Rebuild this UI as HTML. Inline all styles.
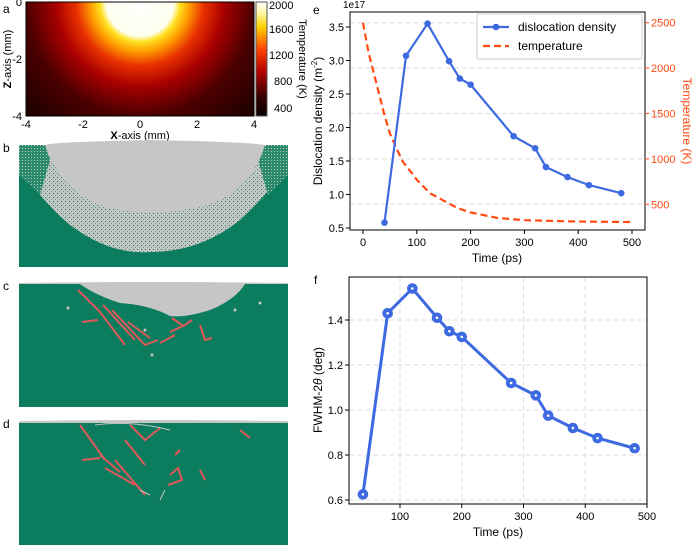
<!DOCTYPE html>
<html><head><meta charset="utf-8"><style>
body{margin:0;background:#fff}
svg{display:block;font-family:"Liberation Sans",Arial,sans-serif}
</style></head><body>
<svg id="fig" width="696" height="546" viewBox="0 0 696 546">
<defs>
<radialGradient id="heat" cx="140" cy="2" r="200" gradientUnits="userSpaceOnUse">
<stop offset="0" stop-color="#ffffff"/><stop offset="0.17" stop-color="#fffff0"/>
<stop offset="0.2" stop-color="#ffe020"/><stop offset="0.25" stop-color="#ff9a00"/>
<stop offset="0.32" stop-color="#e83000"/><stop offset="0.42" stop-color="#a80000"/>
<stop offset="0.57" stop-color="#4a0000"/><stop offset="0.8" stop-color="#1c0000"/>
<stop offset="1" stop-color="#0e0000"/></radialGradient>
<linearGradient id="cbar" x1="0" y1="0" x2="0" y2="1">
<stop offset="0" stop-color="#ffffff"/><stop offset="0.1" stop-color="#fff8a0"/>
<stop offset="0.22" stop-color="#ffd000"/><stop offset="0.42" stop-color="#ff4000"/>
<stop offset="0.62" stop-color="#b00000"/><stop offset="0.85" stop-color="#300000"/>
<stop offset="1" stop-color="#080000"/></linearGradient>
<pattern id="speck" width="4" height="4" patternUnits="userSpaceOnUse">
<rect width="4" height="4" fill="#c4c6c4"/>
<rect x="1" y="1" width="1" height="1" fill="#0b7c5e"/><rect x="3" y="3" width="1" height="1" fill="#5a9a85"/>
</pattern>
<pattern id="speck2" width="3" height="3" patternUnits="userSpaceOnUse">
<rect width="3" height="3" fill="#2a8a6c"/>
<rect x="1" y="1" width="1" height="1" fill="#c4c6c4"/>
</pattern>
</defs>

<!-- panel a -->
<text x="3" y="13" font-size="12">a</text>
<rect x="26" y="2" width="228" height="114" fill="url(#heat)"/>
<rect x="26" y="2" width="228" height="114" fill="none" stroke="#000" stroke-width="1"/>
<g font-size="11" text-anchor="end">
<text x="22" y="6">0</text><text x="22" y="63">-2</text><text x="22" y="120">-4</text></g>
<g font-size="11" text-anchor="middle">
<text x="26" y="128">-4</text><text x="83" y="128">-2</text><text x="140" y="128">0</text><text x="197" y="128">2</text><text x="254" y="128">4</text></g>
<text x="140" y="139" font-size="11" text-anchor="middle"><tspan font-weight="bold">X</tspan>-axis (mm)</text>
<text transform="translate(11,59) rotate(-90)" font-size="11" text-anchor="middle"><tspan font-weight="bold">Z</tspan>-axis (mm)</text>
<rect x="256" y="2" width="11" height="114" fill="url(#cbar)" stroke="#555" stroke-width="1"/>
<g font-size="11">
<text x="269" y="9">2000</text><text x="269" y="33">1600</text><text x="269" y="59">1200</text><text x="274" y="85">800</text><text x="274" y="112">400</text></g>
<text transform="translate(299,59) rotate(90)" font-size="11" text-anchor="middle">Temperature (K)</text>

<!-- panel b -->
<text x="3" y="152" font-size="12">b</text>
<g>
<rect x="19" y="145" width="269" height="122" fill="#0b7c5e"/>
<path d="M19,145 L19,165 Q40,200 70,225 Q110,255 150,252 Q200,252 240,220 Q272,190 288,165 L288,145 Z" fill="url(#speck)"/>
<path d="M19,145 L19,175 Q30,185 40,195 L50,160 L45,145 Z" fill="url(#speck2)"/>
<path d="M288,145 L288,175 Q278,185 268,195 L258,160 L265,145 Z" fill="url(#speck2)"/>
<path d="M45,145 Q50,142 150,140 Q250,142 265,145 Q250,195 200,207 Q150,218 105,207 Q62,192 45,145 Z" fill="#c6c6c6"/>
</g>

<!-- panel c -->
<text x="3" y="290" font-size="12">c</text>
<g>
<rect x="19" y="283" width="269" height="124" fill="#0b7c5e"/>
<path d="M19,283 Q150,281 288,283 L288,284 L245,284 Q235,300 210,310 Q185,318 170,316 Q150,305 120,303 Q95,295 80,284 L19,284 Z" fill="#c6c6c6"/>
<g stroke="#e05858" stroke-width="2" fill="none">
<path d="M78,290 L100,312 L125,345"/><path d="M103,305 L135,340"/><path d="M112,310 L145,345 L158,340"/>
<path d="M82,322 L98,320"/><path d="M128,322 L150,338"/><path d="M170,332 L185,325 L192,320"/>
<path d="M160,343 L175,335"/><path d="M200,325 L205,340 L212,338"/><path d="M172,318 L182,325"/>
</g>
<g fill="#c6c6c6"><circle cx="68" cy="308" r="1.5"/><circle cx="235" cy="310" r="1.5"/><circle cx="260" cy="303" r="1.5"/><circle cx="152" cy="355" r="1.5"/><circle cx="145" cy="330" r="1.5"/></g>
</g>

<!-- panel d -->
<text x="3" y="428" font-size="12">d</text>
<g>
<rect x="19" y="421" width="269" height="124" fill="#0b7c5e"/>
<path d="M19,421 Q150,419 288,421 L288,423 L19,423 Z" fill="#c6c6c6"/>
<g stroke="#e05858" stroke-width="2" fill="none">
<path d="M80,425 L105,460"/><path d="M130,425 L145,440 L160,428"/><path d="M100,455 L120,472"/>
<path d="M105,468 L135,485"/><path d="M115,460 L145,495"/><path d="M82,460 L100,458"/>
<path d="M125,440 L145,465"/><path d="M170,475 L178,468 L182,480 L168,485"/><path d="M200,470 L205,480"/>
<path d="M240,430 L250,438"/><path d="M175,455 L180,450"/>
</g>
<g stroke="#c6c6c6" stroke-width="1" fill="none"><path d="M95,425 Q130,420 170,430"/><path d="M140,490 L150,495"/><path d="M160,500 L165,490"/></g>
</g>

<text x="313" y="14" font-size="12">e</text>
<text x="314" y="284" font-size="12">f</text>

<g id="chartE"></g>
<g id="chartF"></g>
</svg>
<script>
const NS='http://www.w3.org/2000/svg';
function mk(parent,tag,attrs,txt){const e=document.createElementNS(NS,tag);for(const k in attrs)e.setAttribute(k,attrs[k]);if(txt!==undefined)e.textContent=txt;parent.appendChild(e);return e;}

// ---- chart e data ----
const eTimes=[40,80,120,160,180,200,280,320,340,380,420,480];
const eDensity=[0.58,3.07,3.55,2.99,2.73,2.64,1.87,1.69,1.41,1.26,1.14,1.02];
const tempTimes=[0,10,25,40,50,65,75,90,100,125,150,175,200,250,300,400,500];
const tempValues=[2500,2180,1830,1480,1280,1080,960,850,770,620,540,460,410,350,325,310,305];
const eXTicks=[0,100,200,300,400,500];
const eYTicks=[0.5,1.0,1.5,2.0,2.5,3.0,3.5];
const eY2Ticks=[500,1000,1500,2000,2500];
// ---- chart f data ----
const fTimes=[40,80,120,160,180,200,280,320,340,380,420,480];
const fFwhm=[0.625,1.43,1.54,1.41,1.35,1.325,1.12,1.065,0.975,0.92,0.875,0.83];
const fXTicks=[100,200,300,400,500];
const fYTicks=[0.6,0.8,1.0,1.2,1.4];

const BLUE='#3d6ae0', ORANGE='#ff4a10';
const ex=t=>363+(t-0)*(632-363)/500;
const ey=v=>228-(v-0.5)*(228-27)/3.0;
const ey2=v=>204.3-(v-500)*(204.3-22.7)/2000;
const E=document.getElementById('chartE');
eY2Ticks.forEach(v=>{const g=mk(E,'line',{x1:350,x2:645,y1:ey2(v),y2:ey2(v),stroke:'#ddd','stroke-dasharray':'5,3','stroke-width':1});

});
let tp=tempTimes.map((t,i)=>ex(t)+','+ey2(tempValues[i])).join(' ');
const tl=mk(E,'polyline',{points:tp,fill:'none',stroke:ORANGE,'stroke-width':2.2,'stroke-dasharray':'7,4'});


const dl=mk(E,'polyline',{points:eTimes.map((t,i)=>ex(t)+','+ey(eDensity[i])).join(' '),fill:'none',stroke:BLUE,'stroke-width':2.2});


eTimes.forEach((t,i)=>{const c=mk(E,'circle',{cx:ex(t),cy:ey(eDensity[i]),r:3.3,fill:BLUE});

});
mk(E,'rect',{x:350,y:12,width:295,height:218,fill:'none',stroke:'#000','stroke-width':1});
eXTicks.forEach(t=>{mk(E,'line',{x1:ex(t),x2:ex(t),y1:230,y2:234,stroke:'#000'});
const l=mk(E,'text',{x:ex(t),y:246,'font-size':11,'text-anchor':'middle'},String(t));

});
eYTicks.forEach(v=>{mk(E,'line',{x1:346,x2:350,y1:ey(v),y2:ey(v),stroke:'#000'});
const l=mk(E,'text',{x:344,y:ey(v)+4,'font-size':11,'text-anchor':'end'},v.toFixed(1));

});
eY2Ticks.forEach(v=>{mk(E,'line',{x1:645,x2:649,y1:ey2(v),y2:ey2(v),stroke:ORANGE});
const l=mk(E,'text',{x:651,y:ey2(v)+4,'font-size':11,fill:ORANGE},String(v));

});
mk(E,'text',{x:343,y:8,'font-size':10},'1e17');
const ext=mk(E,'text',{x:497,y:262,'font-size':12,'text-anchor':'middle'},'Time (ps)');


const eyt=mk(E,'text',{transform:'translate(322,121) rotate(-90)','font-size':12,'text-anchor':'middle'});
eyt.innerHTML='Dislocation density (m<tspan font-size="8" dy="-5">-2</tspan><tspan dy="5">)</tspan>';


const ey2t=mk(E,'text',{transform:'translate(683,121) rotate(90)','font-size':12,'text-anchor':'middle',fill:ORANGE},'Temperature (K)');


const lg=mk(E,'g',{});


mk(lg,'rect',{x:477,y:14,width:165,height:45,fill:'#fff',stroke:'#ccc',rx:2});
mk(lg,'line',{x1:483,x2:509,y1:27,y2:27,stroke:BLUE,'stroke-width':2.2});
mk(lg,'circle',{cx:496,cy:27,r:3.3,fill:BLUE});
mk(lg,'text',{x:518,y:31,'font-size':12},'dislocation density');
mk(lg,'line',{x1:483,x2:509,y1:46,y2:46,stroke:ORANGE,'stroke-width':2.2,'stroke-dasharray':'7,4'});
mk(lg,'text',{x:518,y:50,'font-size':12},'temperature');

const fx=t=>400+(t-100)*(647-400)/400;
const fy=v=>500-(v-0.6)*(500-320)/0.8;
const F=document.getElementById('chartF');
fXTicks.forEach(t=>{const g=mk(F,'line',{x1:fx(t),x2:fx(t),y1:277,y2:504,stroke:'#ddd','stroke-dasharray':'5,3'});

});
fYTicks.forEach(v=>{const g=mk(F,'line',{x1:349,x2:647,y1:fy(v),y2:fy(v),stroke:'#ddd','stroke-dasharray':'5,3'});

});
const fl=mk(F,'polyline',{points:fTimes.map((t,i)=>fx(t)+','+fy(fFwhm[i])).join(' '),fill:'none',stroke:BLUE,'stroke-width':3});


fTimes.forEach((t,i)=>{const c=mk(F,'circle',{cx:fx(t),cy:fy(fFwhm[i]),r:5.3,fill:BLUE});


mk(F,'circle',{cx:fx(t),cy:fy(fFwhm[i]),r:1.3,fill:'#fff'});});
mk(F,'rect',{x:349,y:277,width:298,height:227,fill:'none',stroke:'#000','stroke-width':1});
fXTicks.forEach(t=>{mk(F,'line',{x1:fx(t),x2:fx(t),y1:504,y2:508,stroke:'#000'});
const l=mk(F,'text',{x:fx(t),y:520,'font-size':11,'text-anchor':'middle'},String(t));

});
fYTicks.forEach(v=>{mk(F,'line',{x1:345,x2:349,y1:fy(v),y2:fy(v),stroke:'#000'});
const l=mk(F,'text',{x:343,y:fy(v)+4,'font-size':11,'text-anchor':'end'},v.toFixed(1));

});
const fxt=mk(F,'text',{x:498,y:536,'font-size':12,'text-anchor':'middle'},'Time (ps)');


const fyt=mk(F,'text',{transform:'translate(322,390) rotate(-90)','font-size':12,'text-anchor':'middle'});
fyt.innerHTML='FWHM-2<tspan font-style="italic">θ</tspan> (deg)';


</script>
</body></html>
